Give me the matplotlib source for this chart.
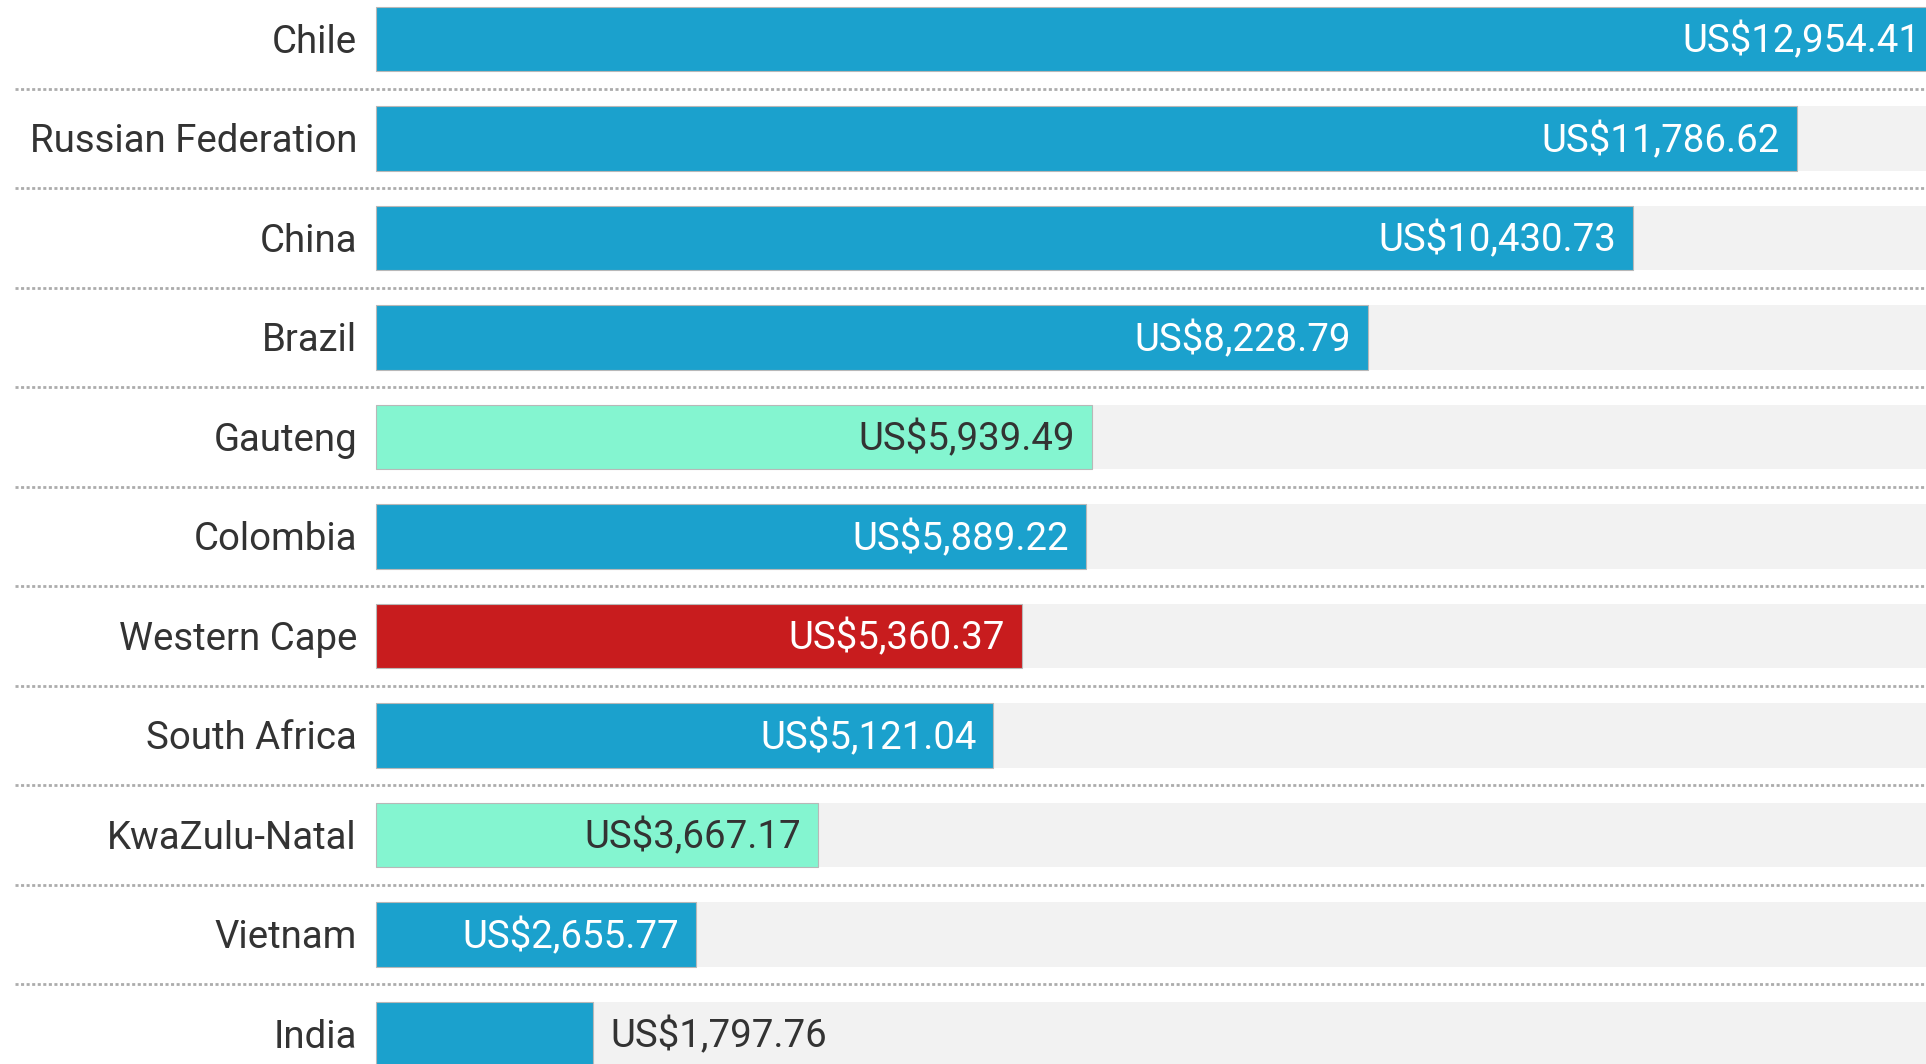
import matplotlib
matplotlib.use("Agg")
import matplotlib.pyplot as plt
from matplotlib.transforms import blended_transform_factory

categories = ["Chile", "Russian Federation", "China", "Brazil", "Gauteng", "Colombia",
              "Western Cape", "South Africa", "KwaZulu-Natal", "Vietnam", "India"]
values = [12954.41, 11786.62, 10430.73, 8228.79, 5939.49, 5889.22,
          5360.37, 5121.04, 3667.17, 2655.77, 1797.76]
groups = ["country", "country", "country", "country", "province", "country",
          "focus", "country", "province", "country", "country"]
value_labels = ["US$12,954.41", "US$11,786.62", "US$10,430.73", "US$8,228.79", "US$5,939.49",
                "US$5,889.22", "US$5,360.37", "US$5,121.04", "US$3,667.17", "US$2,655.77",
                "US$1,797.76"]

BAR_COLORS = {"country": "#1ba1cd", "province": "#84f5d0", "focus": "#c81c1e"}
LABEL_COLORS = {"country": "white", "province": "#333333", "focus": "white"}
DARK = "#333333"
BG = "#f2f2f2"

W, H, DPI = 1926, 1064, 100
LEFT_PX = 376.0
MAX_END_PX = 1937.5
ROW0_PX = 39.0
ROW_PITCH = 99.5
BAR_H = 0.645
FONT = "Roboto"
FS = 27.6
CAP = 0.711

fig = plt.figure(figsize=(W / DPI, H / DPI), dpi=DPI)
ax = fig.add_axes([0, 0, 1, 1])
ppu = (MAX_END_PX - LEFT_PX) / max(values)
ax.set_xlim(-LEFT_PX / ppu, (W - LEFT_PX) / ppu)
ax.set_ylim((H - ROW0_PX) / ROW_PITCH, -ROW0_PX / ROW_PITCH)
ax.axis("off")

n = len(categories)
ys = list(range(n))
vmax = max(values)

# background tracks
ax.barh(ys, [vmax * 1.05] * n, height=BAR_H, color=BG, zorder=1)
# bars
ax.barh(ys, values, height=BAR_H, color=[BAR_COLORS[g] for g in groups],
        edgecolor="#b8b8b8", linewidth=0.8, zorder=2)

# dotted separators
tr = blended_transform_factory(fig.transFigure, ax.transData)
for i in range(n - 1):
    ax.plot([15 / W, 1.0], [i + 0.5, i + 0.5], transform=tr, color="#acacac",
            linewidth=2.0, linestyle=(0, (1.1, 0.9)), solid_capstyle="butt",
            dash_capstyle="butt", clip_on=False, zorder=0)

fig.canvas.draw()
renderer = fig.canvas.get_renderer()
pt = 72.0 / DPI
dy = -CAP * FS / 2.0
for i, (cat, v, g, lab) in enumerate(zip(categories, values, groups, value_labels)):
    ax.annotate(cat, xy=(0, i), xytext=(-19 * pt, dy), textcoords="offset points",
                ha="right", va="baseline", fontsize=FS, family=FONT, color=DARK,
                zorder=3, annotation_clip=False)
    t = ax.annotate(lab, xy=(v, i), xytext=(-17 * pt, dy), textcoords="offset points",
                    ha="right", va="baseline", fontsize=FS, family=FONT,
                    color=LABEL_COLORS[g], zorder=3, annotation_clip=False)
    tw = t.get_window_extent(renderer).width
    if tw + 30 > v * ppu:
        t.remove()
        ax.annotate(lab, xy=(v, i), xytext=(18 * pt, dy), textcoords="offset points",
                    ha="left", va="baseline", fontsize=FS, family=FONT, color=DARK,
                    zorder=3, annotation_clip=False)

fig.savefig("out.png", dpi=DPI)
